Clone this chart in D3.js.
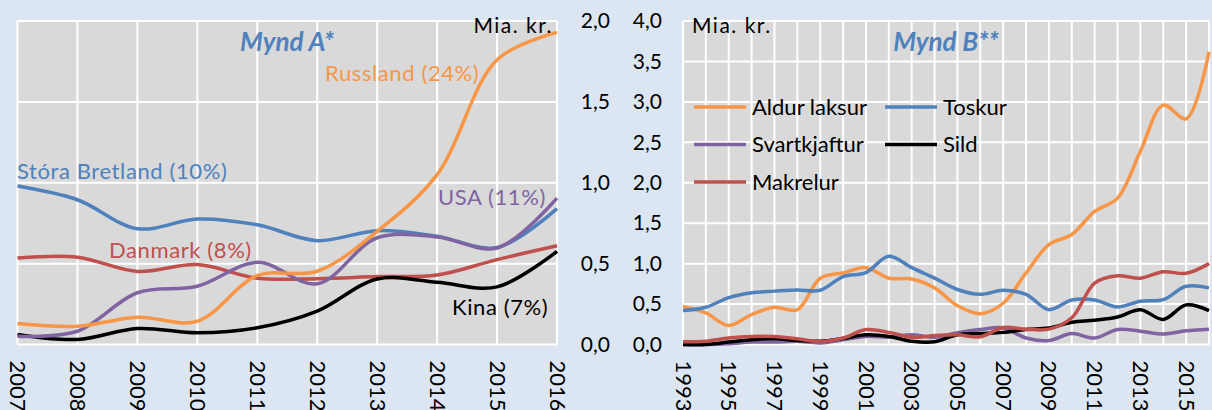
<!DOCTYPE html>
<html>
<head>
<meta charset="utf-8">
<script src="https://cdn.jsdelivr.net/npm/d3@7"></script>
<style>
    body { margin: 0; background: #dce6f2; }
    text { font-family: Lato, "Open Sans", sans-serif; }
</style>
</head>
<body>
<div id="chart"></div>
<script>
// Mynd A - export by country, Mia. kr.
const years_a = [2007, 2008, 2009, 2010, 2011, 2012, 2013, 2014, 2015, 2016];
const bretland = [0.98, 0.895, 0.716, 0.776, 0.74, 0.642, 0.704, 0.669, 0.60, 0.84];
const danmark = [0.535, 0.54, 0.452, 0.494, 0.41, 0.407, 0.42, 0.43, 0.525, 0.61];
const kina = [0.062, 0.031, 0.099, 0.072, 0.103, 0.206, 0.405, 0.385, 0.356, 0.576];
const usa = [0.051, 0.082, 0.32, 0.36, 0.508, 0.375, 0.66, 0.665, 0.597, 0.905];
const russland = [0.13, 0.113, 0.169, 0.144, 0.426, 0.453, 0.70, 1.05, 1.76, 1.93];
const names_a = ["Stóra Bretland (10%)", "Danmark (8%)", "Kina (7%)", "USA (11%)", "Russland (24%)"];
const ticks_a = [0, 0.5, 1.0, 1.5, 2.0];

// Mynd B - export by species, Mia. kr.
const years_b = [1993, 1994, 1995, 1996, 1997, 1998, 1999, 2000, 2001, 2002, 2003, 2004,
    2005, 2006, 2007, 2008, 2009, 2010, 2011, 2012, 2013, 2014, 2015, 2016];
const laksur = [0.47, 0.39, 0.235, 0.37, 0.46, 0.43, 0.82, 0.885, 0.95, 0.82, 0.81, 0.70,
    0.48, 0.38, 0.51, 0.885, 1.235, 1.36, 1.645, 1.81, 2.39, 2.96, 2.79, 3.62];
const toskur = [0.42, 0.46, 0.58, 0.64, 0.66, 0.675, 0.67, 0.84, 0.89, 1.09, 0.95, 0.82,
    0.68, 0.62, 0.67, 0.62, 0.43, 0.55, 0.55, 0.465, 0.535, 0.555, 0.72, 0.70];
const svartkjaftur = [0.0, 0.0, 0.01, 0.03, 0.03, 0.04, 0.02, 0.06, 0.10, 0.09, 0.12, 0.09,
    0.145, 0.185, 0.205, 0.08, 0.05, 0.135, 0.08, 0.185, 0.165, 0.13, 0.17, 0.19];
const sild = [0.0, 0.0, 0.03, 0.06, 0.07, 0.05, 0.04, 0.074, 0.12, 0.10, 0.04, 0.033,
    0.12, 0.135, 0.15, 0.185, 0.205, 0.275, 0.30, 0.34, 0.43, 0.31, 0.49, 0.42];
const makrelur = [0.033, 0.04, 0.08, 0.10, 0.10, 0.07, 0.037, 0.08, 0.185, 0.15, 0.09, 0.11,
    0.12, 0.095, 0.21, 0.19, 0.19, 0.33, 0.76, 0.85, 0.82, 0.90, 0.88, 1.0];
const names_b = ["Aldur laksur", "Toskur", "Svartkjaftur", "Sild", "Makrelur"];
const ticks_b = [0, 0.5, 1.0, 1.5, 2.0, 2.5, 3.0, 3.5, 4.0];
const labels_b = [1993, 1995, 1997, 1999, 2001, 2003, 2005, 2007, 2009, 2011, 2013, 2015];

const width = 1212, height = 410;
const colors_a = ["#4f81bd", "#c0504d", "#000000", "#8064a2", "#f79646"];
const colors_b = ["#f79646", "#4f81bd", "#8064a2", "#000000", "#c0504d"];

let svg = d3.select("#chart")
    .append("svg")
    .attr("width", width)
    .attr("height", height);

svg.append("rect")
    .attr("width", width)
    .attr("height", height)
    .attr("fill", "#dce6f2");

// Scales
const top_y = 21, bottom_y = 344.5;
const x_a = d3.scaleLinear().domain([2007, 2016]).range([17.5, 557]);
const y_a = d3.scaleLinear().domain([0, 2]).range([bottom_y, top_y]);
const x_b = d3.scaleLinear().domain([1993, 2016]).range([683, 1209]);
const y_b = d3.scaleLinear().domain([0, 4]).range([bottom_y, top_y]);

const comma = d => d3.format(".1f")(d).replace(".", ",");

// Plot area with white gridlines
function drawPlot(x, y, xticks, yticks) {
    let g = svg.append("g");
    g.append("rect")
        .attr("x", x.range()[0])
        .attr("y", top_y)
        .attr("width", x.range()[1] - x.range()[0])
        .attr("height", bottom_y - top_y)
        .attr("fill", "#d9d9d9");
    g.selectAll(".vgrid")
        .data(xticks)
        .enter()
        .append("line")
        .attr("x1", d => x(d)).attr("x2", d => x(d))
        .attr("y1", top_y).attr("y2", bottom_y)
        .style("stroke", "#fff")
        .style("stroke-width", 2);
    g.selectAll(".hgrid")
        .data(yticks)
        .enter()
        .append("line")
        .attr("x1", x.range()[0]).attr("x2", x.range()[1])
        .attr("y1", d => y(d)).attr("y2", d => y(d))
        .style("stroke", "#fff")
        .style("stroke-width", 2);
}

drawPlot(x_a, y_a, years_a, ticks_a);
drawPlot(x_b, y_b, years_b, ticks_b);

// Rotated year labels under each plot
function drawXAxis(x, values) {
    svg.append("g")
        .attr("transform", `translate(0, ${bottom_y})`)
        .call(d3.axisBottom(x).tickValues(values).tickFormat(d3.format("d")).tickSize(0))
        .call(g => g.select(".domain").remove())
        .call(g => g.selectAll("text")
            .attr("transform", "rotate(90)")
            .attr("x", 16)
            .attr("y", 0)
            .attr("dy", "0.36em")
            .attr("font-family", null)
            .style("font-size", "22px")
            .style("fill", "#000")
            .style("text-anchor", "start"));
}
drawXAxis(x_a, years_a);
drawXAxis(x_b, labels_b);

// Left chart uses a right axis, right chart a left axis
svg.append("g")
    .attr("transform", `translate(557, 0)`)
    .call(d3.axisRight(y_a).tickValues(ticks_a).tickFormat(comma).tickSize(0))
    .call(g => g.select(".domain").remove())
    .call(g => g.selectAll("text")
        .attr("x", 53)
        .attr("font-family", null)
        .style("font-size", "21px")
        .style("fill", "#000")
        .style("text-anchor", "end"));

svg.append("g")
    .attr("transform", `translate(683, 0)`)
    .call(d3.axisLeft(y_b).tickValues(ticks_b).tickFormat(comma).tickSize(0).tickPadding(21))
    .call(g => g.select(".domain").remove())
    .call(g => g.selectAll("text")
        .attr("font-family", null)
        .style("font-size", "21px")
        .style("fill", "#000"));

// Lines
function drawLines(x, y, years, series, colors) {
    let line = d3.line()
        .x((d, i) => x(years[i]))
        .y(d => y(d))
        .curve(d3.curveCatmullRom.alpha(0.5));
    svg.append("g")
        .selectAll("path")
        .data(series)
        .enter()
        .append("path")
        .attr("d", d => line(d))
        .attr("fill", "none")
        .attr("stroke", (d, i) => colors[i])
        .attr("stroke-width", 3.5)
        .attr("stroke-linejoin", "round");
}
drawLines(x_a, y_a, years_a, [bretland, danmark, kina, usa, russland], colors_a);
drawLines(x_b, y_b, years_b, [laksur, toskur, svartkjaftur, sild, makrelur], colors_b);

// Chart titles and units
svg.append("text")
    .attr("x", 287).attr("y", 42).attr("dy", "0.35em")
    .style("text-anchor", "middle")
    .style("font-size", "26px").style("font-weight", "bold").style("font-style", "italic")
    .style("fill", "#4f81bd")
    .text("Mynd A*");
svg.append("text")
    .attr("x", 946).attr("y", 42).attr("dy", "0.35em")
    .style("text-anchor", "middle")
    .style("font-size", "26px").style("font-weight", "bold").style("font-style", "italic")
    .style("fill", "#4f81bd")
    .text("Mynd B**");
svg.append("text")
    .attr("x", 553).attr("y", 26).attr("dy", "0.35em")
    .style("text-anchor", "end").style("font-size", "21px").style("letter-spacing", "1.5px")
    .text("Mia. kr.");
svg.append("text")
    .attr("x", 692).attr("y", 26).attr("dy", "0.35em")
    .style("font-size", "21px").style("letter-spacing", "1.5px")
    .text("Mia. kr.");

// Direct labels for Mynd A
const label_pos_a = [[17, 171], [109, 250], [452, 307], [438, 197], [325, 73]];
svg.append("g")
    .selectAll("text")
    .data(names_a)
    .enter()
    .append("text")
    .attr("x", (d, i) => label_pos_a[i][0])
    .attr("y", (d, i) => label_pos_a[i][1])
    .attr("dy", "0.35em")
    .style("font-size", "22px")
    .style("letter-spacing", "0.6px")
    .style("fill", (d, i) => colors_a[i])
    .text(d => d);

// Legend for Mynd B, two columns
let legend = svg.append("g")
    .selectAll("g")
    .data(names_b)
    .enter()
    .append("g")
    .attr("transform", (d, i) => `translate(${i % 2 === 0 ? 694 : 885}, ${107 + Math.floor(i / 2) * 37.5})`);
legend.append("line")
    .attr("x1", 0).attr("x2", 52)
    .style("stroke", (d, i) => colors_b[i])
    .style("stroke-width", 3.5);
legend.append("text")
    .attr("x", 58)
    .attr("dy", "0.35em")
    .style("font-size", "22px")
    .text(d => d);
</script>
</body>
</html>
